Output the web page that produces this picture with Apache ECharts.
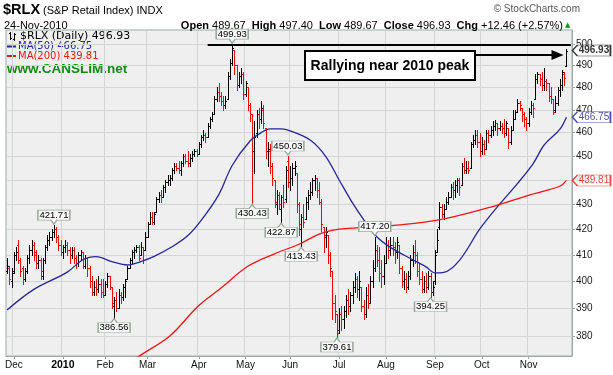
<!DOCTYPE html>
<html>
<head>
<meta charset="utf-8">
<script src="https://cdn.jsdelivr.net/npm/echarts@6/dist/echarts.min.js"></script>
<style>
  html, body { margin: 0; padding: 0; background: #fff; }
  #chart { width: 613px; height: 375px; }
</style>
</head>
<body>
<div id="chart"></div>
<script>
'use strict';

// trading days on the chart, per month
var nov09 = [25, 27, 30];
var dec09 = [1, 2, 3, 4, 7, 8, 9, 10, 11, 14, 15, 16, 17, 18, 21, 22, 23, 24, 28, 29, 30, 31];
var jan10 = [4, 5, 6, 7, 8, 11, 12, 13, 14, 15, 19, 20, 21, 22, 25, 26, 27, 28, 29];
var feb10 = [1, 2, 3, 4, 5, 8, 9, 10, 11, 12, 16, 17, 18, 19, 22, 23, 24, 25, 26];
var mar10 = [1, 2, 3, 4, 5, 8, 9, 10, 11, 12, 15, 16, 17, 18, 19, 22, 23, 24, 25, 26, 29, 30, 31];
var apr10 = [1, 5, 6, 7, 8, 9, 12, 13, 14, 15, 16, 19, 20, 21, 22, 23, 26, 27, 28, 29, 30];
var may10 = [3, 4, 5, 6, 7, 10, 11, 12, 13, 14, 17, 18, 19, 20, 21, 24, 25, 26, 27, 28];
var jun10 = [1, 2, 3, 4, 7, 8, 9, 10, 11, 14, 15, 16, 17, 18, 21, 22, 23, 24, 25, 28, 29, 30];
var jul10 = [1, 2, 6, 7, 8, 9, 12, 13, 14, 15, 16, 19, 20, 21, 22, 23, 26, 27, 28, 29, 30];
var aug10 = [2, 3, 4, 5, 6, 9, 10, 11, 12, 13, 16, 17, 18, 19, 20, 23, 24, 25, 26, 27, 30, 31];
var sep10 = [1, 2, 3, 7, 8, 9, 10, 13, 14, 15, 16, 17, 20, 21, 22, 23, 24, 27, 28, 29, 30];
var oct10 = [1, 4, 5, 6, 7, 8, 11, 12, 13, 14, 15, 18, 19, 20, 21, 22, 25, 26, 27, 28, 29];
var nov10 = [1, 2, 3, 4, 5, 8, 9, 10, 11, 12, 15, 16, 17, 18, 19, 22, 23, 24];
var padDays = ['2010-11-26', '2010-11-29'];   // empty space at the right edge

// daily prices of $RLX
var opens = [
  404, 405, 400, 404, 410, 414, 408, 405, 401, 404, 409, 412, 414, 411, 407, 408, 402, 408, 413, 416,
  417, 419, 420, 417, 414, 411, 413, 414, 412, 410, 412, 409, 407, 410, 411, 406, 409, 405, 400, 396,
  398, 397, 399, 396, 395, 399, 402, 398, 391, 393, 390, 395, 394, 398, 401, 405, 408, 411, 412, 413,
  410, 413, 412, 417, 422, 425, 423, 427, 432, 434, 433, 437, 439, 440, 441, 444, 446, 445, 444, 447,
  450, 448, 447, 449, 451, 452, 451, 455, 458, 459, 458, 463, 466, 468, 475, 478, 476, 474, 472, 475,
  485, 491, 497, 490, 481, 485, 486, 477, 480, 472, 468, 452, 460, 468, 466, 470, 462, 452, 452, 446,
  440, 430, 434, 428, 433, 432, 448, 439, 441, 445, 443, 430, 420, 425, 424, 431, 434, 435, 440, 441,
  436, 431, 421, 417, 418, 410, 404, 392, 388, 382, 388, 386, 389, 393, 391, 395, 398, 401, 397, 398,
  391, 388, 395, 392, 400, 405, 412, 408, 403, 402, 407, 414, 412, 414, 413, 411, 414, 405, 400, 401,
  398, 402, 408, 411, 410, 404, 401, 397, 400, 398, 402, 396, 400, 411, 421, 429, 426, 428, 431, 433,
  437, 436, 438, 440, 438, 446, 444, 445, 445, 455, 457, 459, 456, 452, 455, 453, 460, 459, 461, 463,
  464, 462, 463, 462, 460, 462, 456, 461, 466, 469, 473, 471, 468, 466, 464, 469, 472, 475, 484, 486,
  484, 481, 483, 482, 476, 475, 470, 473, 479, 481, 486, 489.67
];
var highs = [
  409, 406, 405, 411, 413, 416, 409, 406, 405, 410, 414, 416, 415, 412, 410, 409, 409, 414, 418, 419,
  420, 421.71, 421, 418, 416, 414, 416, 415, 413, 413, 413, 410, 411, 412, 411, 410, 409, 406, 402, 400,
  401, 402, 401, 401, 400, 403, 402, 398, 394, 396, 397, 396, 399, 401, 406, 409, 412, 413, 414, 414,
  415, 413, 419, 423, 427, 427, 427, 433, 435, 436, 438, 440, 442, 442, 445, 447, 447, 448, 448, 451,
  451, 452, 451, 452, 453, 453, 456, 459, 461, 460, 464, 467, 469, 476, 480, 482, 478, 476, 476, 487,
  493, 499.93, 497, 490, 487, 489, 487, 483, 480, 473, 468, 465, 470, 471, 474, 472, 462, 456, 455, 447,
  440, 436, 435, 434, 438, 446, 450.03, 446, 447, 448, 443, 431, 426, 430, 433, 436, 439, 441, 442, 441,
  439, 432, 421, 421, 418, 411, 404, 395, 388, 390, 391, 391, 395, 397, 396, 400, 403, 402, 404, 398,
  393, 398, 399, 402, 408, 417.2, 414, 413, 408, 410, 417, 416, 417, 417, 415, 417, 414, 406, 404, 403,
  404, 410, 414, 416, 411, 407, 404, 402, 403, 404, 403, 400, 412, 420, 431, 430, 430, 433, 435, 438.5,
  439, 440, 441, 441, 447, 449, 448, 448, 456, 459, 461, 461, 460, 458, 457, 461, 461, 463, 465, 465.5,
  464, 465, 464, 466, 465, 462, 463, 470, 470, 475, 474, 471, 469, 467, 471, 474, 473, 486, 487, 486,
  487, 489, 484, 482, 480, 475, 476, 480, 484, 488, 487, 497.40
];
var lows = [
  403, 399, 398, 403, 408, 407, 402, 399, 400, 403, 407, 410, 408, 405, 405, 401, 401, 407, 412, 414,
  416, 417, 415, 412, 410, 409, 411, 410, 407, 409, 407, 405, 406, 408, 405, 405, 402, 398, 395, 395,
  395, 396, 394, 394, 395, 398, 397, 390, 386.56, 389, 390, 392, 393, 394, 401, 405, 407, 409, 411, 408,
  410, 407, 412, 417, 422, 422, 422, 427, 431, 431, 433, 435, 438, 438, 440, 443, 444, 443, 442, 446,
  447, 446, 446, 448, 450, 450, 451, 454, 457, 456, 458, 462, 465, 468, 474, 474, 472, 470, 471, 475,
  484, 490, 486, 479, 480, 482, 475, 476, 470, 465, 430.43, 443, 458, 462, 464, 462, 449, 446, 443, 438,
  429, 426, 428, 422.87, 429, 431, 437, 436, 438, 442, 427, 418, 413.43, 421, 424, 428, 432, 434, 436, 433,
  430, 419.5, 411, 413, 407, 402, 386, 385, 379.61, 381, 382, 383, 387, 388, 389, 392, 396, 394, 393, 389,
  386, 387, 390, 392, 398, 404, 406, 400, 398, 399, 407, 409, 410, 410, 407, 409, 403, 398, 397, 396,
  397, 401, 406, 407, 402, 399, 396, 396, 396, 397, 394.25, 395, 399, 411, 420, 425, 424, 428, 430, 433,
  432, 433, 435, 434, 438, 443, 443, 443, 445, 454, 455, 454, 450, 451, 451, 453, 456, 458, 459, 461,
  459, 461, 460, 458, 459, 453.5, 455, 461, 466, 469, 470, 465, 463, 461, 463, 468, 467, 475, 482, 481,
  479, 479, 479, 474, 473, 468, 469, 472, 476, 479, 481, 489.67
];
var closes = [
  406, 401, 403, 410, 411, 408, 404, 401, 404, 409, 412, 414, 410, 407, 408, 404, 408, 413, 416, 417,
  419, 420, 417, 414, 411, 413, 414, 412, 410, 412, 409, 407, 410, 411, 406, 409, 405, 400, 396, 398,
  397, 399, 396, 395, 399, 402, 398, 392, 393, 390, 395, 394, 398, 400, 405, 408, 411, 412, 413, 409,
  413, 412, 417, 422, 425, 423, 426, 432, 434, 433, 437, 439, 440, 441, 444, 446, 445, 444, 447, 450,
  448, 447, 449, 451, 452, 451, 455, 458, 459, 458, 463, 466, 468, 475, 478, 476, 474, 472, 474, 485,
  491, 498, 490, 481, 485, 486, 477, 482, 472, 468, 452, 458, 468, 466, 471, 464, 452, 453, 446, 441,
  431, 434, 430, 433, 431, 444, 439, 441, 445, 446, 430, 422, 425, 423, 431, 434, 435, 440, 441, 436,
  431, 422, 418, 419, 410, 405, 392, 389, 381, 388, 386, 389, 393, 391, 395, 398, 401, 397, 400, 391,
  388, 395, 392, 400, 405, 412, 408, 403, 402, 407, 414, 412, 414, 413, 411, 415, 405, 400, 401, 398,
  402, 408, 411, 410, 404, 401, 397, 400, 398, 402, 396, 398, 410, 416, 429, 426, 428, 431, 433, 437,
  436, 438, 440, 437, 446, 444, 445, 444, 455, 457, 459, 456, 452, 455, 453, 460, 459, 461, 463, 464,
  462, 463, 462, 460, 464, 456, 461, 466, 469, 473, 472, 468, 466, 464, 469, 472, 471, 484, 486, 484,
  481, 483, 482, 476, 475, 469, 473, 479, 481, 487, 484.47, 496.93
];

// moving averages: [bar index, value]
var ma50 = [
  [0, 389.4], [12, 397], [27, 403.5], [34, 408.2], [40, 409.4], [47, 407.5], [54, 406.2], [60, 407.5],
  [66, 409.5], [74, 413.2], [81, 417.5], [87, 423.5], [95, 434], [101, 446], [109, 456.4], [114, 460],
  [118, 461.6], [123, 461.6], [127, 460.8], [136, 456.8], [143, 449.8], [149, 440], [155, 430.6],
  [161, 422.6], [166, 417], [172, 413], [182, 408.2], [188, 405.5], [192, 403.2], [196, 403.4],
  [203, 408], [212, 420], [220, 429], [229, 438.5], [236, 446.7], [241, 454.7], [248, 461.4], [251, 466.75]
];
var ma200 = [
  [55, 370], [59, 372.7], [73, 380], [86, 391], [96, 397.5], [108, 405.7], [120, 410.5], [131, 414.2],
  [140, 418.2], [149, 420.1], [158, 420.7], [176, 421.8], [195, 424], [217, 428.9], [235, 434],
  [248, 437.4], [251, 439.81]
];

// labelled swing highs and lows (bar indices)
var swingHighs = [21, 101, 126, 165];
var swingLows = [48, 110, 123, 132, 148, 190];

var yTicks = [380, 390, 400, 410, 420, 430, 440, 450, 460, 470, 480, 490, 500];
var monthNames = ['Jan', 'Feb', 'Mar', 'Apr', 'May', 'Jun', 'Jul', 'Aug', 'Sep', 'Oct', 'Nov', 'Dec'];

var L = Math.log;
var pad2 = function (d) { return (d < 10 ? '0' : '') + d; };

var dates = [];
[['2009-11', nov09], ['2009-12', dec09], ['2010-01', jan10], ['2010-02', feb10], ['2010-03', mar10],
 ['2010-04', apr10], ['2010-05', may10], ['2010-06', jun10], ['2010-07', jul10], ['2010-08', aug10],
 ['2010-09', sep10], ['2010-10', oct10], ['2010-11', nov10]].forEach(function (m) {
  m[1].forEach(function (d) { dates.push(m[0] + '-' + pad2(d)); });
});
var categories = dates.concat(padDays);

function isMonthStart(i) {
  return i > 0 && i < dates.length && dates[i].slice(0, 7) !== dates[i - 1].slice(0, 7);
}

var ohlcData = dates.map(function (d, i) {
  var down = i > 0 && closes[i] < closes[i - 1] ? 1 : 0;
  return [i, L(opens[i]), L(highs[i]), L(lows[i]), L(closes[i]), down];
});

function renderOhlc(params, api) {
  var k = api.value(0);
  var pO = api.coord([k, api.value(1)]);
  var pH = api.coord([k, api.value(2)]);
  var pL = api.coord([k, api.value(3)]);
  var pC = api.coord([k, api.value(4)]);
  var x = Math.round(pH[0]);
  var color = api.value(5) ? '#ff0000' : '#000000';
  var st = { stroke: color, lineWidth: 1 };
  var yO = Math.round(pO[1]) + 0.5;
  var yC = Math.round(pC[1]) + 0.5;
  return {
    type: 'group',
    children: [
      { type: 'line', shape: { x1: x + 0.5, y1: Math.round(pH[1]), x2: x + 0.5, y2: Math.round(pL[1]) + 1 }, style: st },
      { type: 'line', shape: { x1: x - 1, y1: yO, x2: x, y2: yO }, style: st },
      { type: 'line', shape: { x1: x + 1, y1: yC, x2: x + 2, y2: yC }, style: st }
    ]
  };
}

var calloutUp = 'path://M0,0 L32,0 L32,10 L19,10 L16,14 L13,10 L0,10 Z';
var calloutDown = 'path://M0,4 L13,4 L16,0 L19,4 L32,4 L32,14 L0,14 Z';
var tagShape = 'path://M0,5.5 L5,0 L38,0 L38,11 L5,11 Z';
var labelFont = { fontFamily: 'Liberation Sans', fontSize: 9.5, color: '#000' };

function swingPoint(k, v) {
  return { value: [categories[k], L(v)], text: v.toFixed(2) };
}

function lastTag(v, color, bold) {
  return {
    value: [categories[dates.length - 1], L(v)],
    itemStyle: { color: '#ffffff', borderColor: color, borderWidth: 1 },
    label: { color: color, fontWeight: bold ? 'bold' : 'normal', formatter: v.toFixed(2) }
  };
}

var chart = echarts.init(document.getElementById('chart'), null, { renderer: 'canvas' });

chart.setOption({
  animation: false,
  backgroundColor: '#ffffff',
  grid: {
    left: 6, right: 41, top: 30, bottom: 19,
    show: true, backgroundColor: '#efefef', borderColor: '#9aaca6', borderWidth: 1
  },
  xAxis: {
    type: 'category',
    data: categories,
    boundaryGap: true,
    axisLine: { lineStyle: { color: '#9aaca6' } },
    axisTick: { show: true, interval: isMonthStart, alignWithLabel: true, length: 3, lineStyle: { color: '#9aaca6' } },
    splitLine: { show: true, interval: isMonthStart, lineStyle: { color: '#d4d4d4', width: 1 } },
    axisLabel: {
      interval: isMonthStart,
      margin: 4,
      fontFamily: 'Liberation Sans',
      fontSize: 10,
      color: '#111',
      formatter: function (value) {
        var m = +value.slice(5, 7);
        return m === 1 ? '{y|' + value.slice(0, 4) + '}' : monthNames[m - 1];
      },
      rich: { y: { fontFamily: 'Liberation Sans', fontSize: 10.5, fontWeight: 'bold', color: '#000' } }
    }
  },
  yAxis: {
    type: 'value',
    position: 'right',
    min: L(372.9),
    max: L(506.6),
    axisLine: { show: true, lineStyle: { color: '#9aaca6' } },
    axisTick: { show: true, length: 3, customValues: yTicks.map(L), lineStyle: { color: '#9aaca6' } },
    splitLine: { show: true, lineStyle: { color: '#d4d4d4', width: 1 } },
    axisLabel: {
      customValues: yTicks.map(L),
      margin: 4,
      fontFamily: 'Liberation Sans',
      fontSize: 10,
      color: '#222',
      formatter: function (v) { return String(Math.round(Math.exp(v))); }
    }
  },
  series: [
    {
      name: '$RLX',
      type: 'custom',
      renderItem: renderOhlc,
      data: ohlcData,
      encode: { x: 0, y: [1, 2, 3, 4] },
      clip: true,
      z: 3
    },
    {
      name: 'MA(50)',
      type: 'line',
      data: ma50.map(function (p) { return [categories[p[0]], L(p[1])]; }),
      symbol: 'none',
      smooth: 0.35,
      clip: true,
      lineStyle: { color: '#25259c', width: 1.3 },
      z: 4,
      markLine: {
        silent: true,
        symbol: ['none', 'none'],
        label: { show: false },
        lineStyle: { color: '#000', width: 2, type: 'solid' },
        data: [
          [{ coord: [categories[90], L(499.6)] }, { coord: [categories[253], L(499.6)] }],
          [{ coord: [categories[210], L(494.8)] },
           { coord: [categories[247], L(494.8)], symbol: 'triangle', symbolSize: [10, 12] }]
        ]
      }
    },
    {
      name: 'MA(200)',
      type: 'line',
      data: ma200.map(function (p) { return [categories[p[0]], L(p[1])]; }),
      symbol: 'none',
      smooth: 0.35,
      clip: true,
      lineStyle: { color: '#f21414', width: 1.3 },
      z: 4
    },
    {
      name: 'swing highs',
      type: 'scatter',
      data: swingHighs.map(function (k) { return swingPoint(k, highs[k]); }),
      symbol: calloutUp,
      symbolSize: [32, 14],
      symbolOffset: [0, -8],
      itemStyle: { color: '#f7f7f7', borderColor: '#9aa69a', borderWidth: 1, opacity: 1 },
      label: Object.assign({ show: true, position: 'inside', offset: [0, -2],
        formatter: function (p) { return p.data.text; } }, labelFont),
      silent: true,
      z: 6
    },
    {
      name: 'swing lows',
      type: 'scatter',
      data: swingLows.map(function (k) { return swingPoint(k, lows[k]); }),
      symbol: calloutDown,
      symbolSize: [32, 14],
      symbolOffset: [0, 8],
      itemStyle: { color: '#f7f7f7', borderColor: '#9aa69a', borderWidth: 1, opacity: 1 },
      label: Object.assign({ show: true, position: 'inside', offset: [0, 2],
        formatter: function (p) { return p.data.text; } }, labelFont),
      silent: true,
      z: 6
    },
    {
      name: 'last values',
      type: 'scatter',
      data: [
        lastTag(closes[closes.length - 1], '#000000', true),
        lastTag(ma50[ma50.length - 1][1], '#25259c', false),
        lastTag(ma200[ma200.length - 1][1], '#f21414', false)
      ],
      symbol: tagShape,
      symbolSize: [38, 11],
      symbolOffset: [25, 0],
      label: { show: true, position: 'inside', offset: [2.5, 0], fontFamily: 'Liberation Sans', fontSize: 10 },
      silent: true,
      clip: false,
      z: 7
    }
  ],
  graphic: [
    { type: 'text', style: { x: 3, y: 10, text: '$RLX', font: 'bold 14.5px "Liberation Sans"', fill: '#000', verticalAlign: 'middle' } },
    { type: 'text', style: { x: 43, y: 11, text: '(S&P Retail Index) INDX', font: '11px "Liberation Sans"', fill: '#000', verticalAlign: 'middle' } },
    { type: 'text', style: { x: 580, y: 9, text: '\u00a9 StockCharts.com', font: '10px "Liberation Sans"', fill: '#555', align: 'right', verticalAlign: 'middle' } },
    { type: 'text', style: { x: 4, y: 26, text: '24-Nov-2010', font: '11px "Liberation Sans"', fill: '#000', verticalAlign: 'middle' } },
    {
      type: 'text',
      style: {
        x: 563, y: 26, align: 'right', verticalAlign: 'middle',
        text: '{b|Open} 489.67  {b|High} 497.40  {b|Low} 489.67  {b|Close} 496.93  {b|Chg} +12.46 (+2.57%)',
        font: '11px "Liberation Sans"', fill: '#000',
        rich: { b: { font: 'bold 11px "Liberation Sans"', fill: '#000' } }
      }
    },
    { type: 'text', style: { x: 565, y: 25, text: '\u25b2', font: '7px "DejaVu Sans"', fill: '#00a000', verticalAlign: 'middle' } },

    // legend inside the plot
    { type: 'line', shape: { x1: 10.5, y1: 32, x2: 10.5, y2: 40 }, style: { stroke: '#000', lineWidth: 1 } },
    { type: 'line', shape: { x1: 9, y1: 33.5, x2: 10, y2: 33.5 }, style: { stroke: '#000', lineWidth: 1 } },
    { type: 'line', shape: { x1: 11, y1: 38.5, x2: 12, y2: 38.5 }, style: { stroke: '#000', lineWidth: 1 } },
    { type: 'line', shape: { x1: 14.5, y1: 33, x2: 14.5, y2: 41 }, style: { stroke: '#000', lineWidth: 1 } },
    { type: 'line', shape: { x1: 13, y1: 39.5, x2: 14, y2: 39.5 }, style: { stroke: '#000', lineWidth: 1 } },
    { type: 'line', shape: { x1: 15, y1: 34.5, x2: 16, y2: 34.5 }, style: { stroke: '#000', lineWidth: 1 } },
    { type: 'text', style: { x: 20, y: 36, text: '$RLX (Daily) 496.93', font: '11px "DejaVu Sans"', fill: '#000', verticalAlign: 'middle' } },
    { type: 'rect', shape: { x: 7, y: 45.5, width: 9, height: 2 }, style: { fill: '#25259c' } },
    { type: 'text', style: { x: 18, y: 46.5, text: 'MA(50) 466.75', font: '10px "DejaVu Sans"', fill: '#25259c', verticalAlign: 'middle' } },
    { type: 'rect', shape: { x: 7, y: 55, width: 9, height: 2 }, style: { fill: '#f21414' } },
    { type: 'text', style: { x: 18, y: 56, text: 'MA(200) 439.81', font: '10px "DejaVu Sans"', fill: '#f21414', verticalAlign: 'middle' } },
    { type: 'text', style: { x: 7, y: 69, text: 'www.CANSLIM.net', font: 'bold 13.5px "Liberation Sans"', fill: '#138a13', verticalAlign: 'middle' } },

    // annotation box
    { type: 'rect', shape: { x: 305, y: 51, width: 170, height: 29 }, style: { fill: '#ffffff', stroke: '#000', lineWidth: 2 }, z: 100 },
    { type: 'text', style: { x: 390, y: 66, text: 'Rallying near 2010 peak', font: 'bold 14px "Liberation Sans"', fill: '#000', align: 'center', verticalAlign: 'middle' }, z: 101 }
  ]
});
</script>
</body>
</html>
